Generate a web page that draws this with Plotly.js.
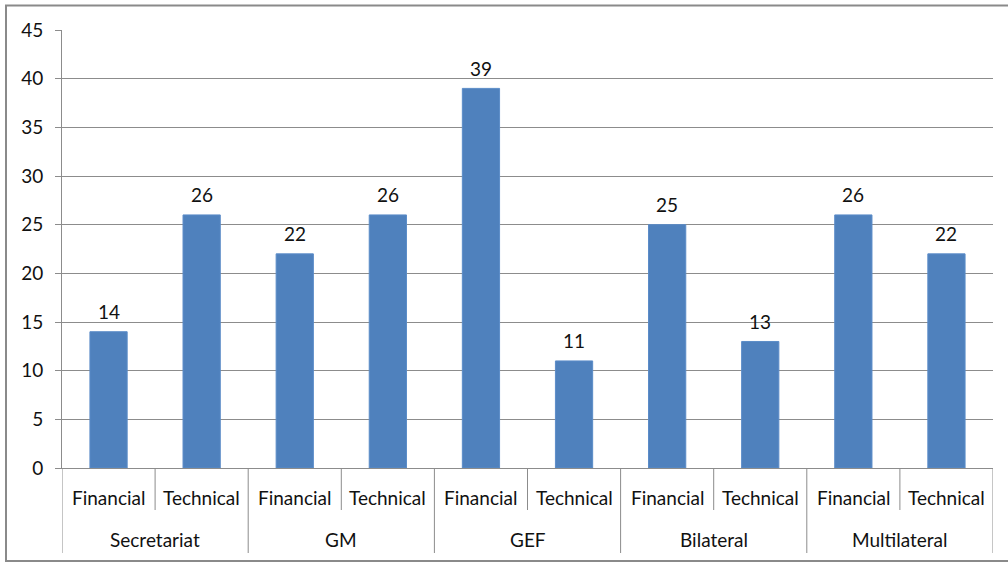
<!DOCTYPE html>
<html>
<head>
<meta charset="utf-8">
<script src="https://cdn.plot.ly/plotly-3.0.1.min.js"></script>
<style>
html,body{margin:0;padding:0;background:#fff;}
#chart{width:1008px;height:563px;}
</style>
</head>
<body>
<div id="chart"></div>
<script>
var groups = ["Secretariat", "GM", "GEF", "Bilateral", "Multilateral"];
var subTypes = ["Financial", "Technical"];
var values = [14, 26, 22, 26, 39, 11, 25, 13, 26, 22];

var FONT = "Lato, 'Open Sans', sans-serif";
var FS = 19;
var W = 1008, H = 563;
var mL = 62, mR = 15, mT = 30, mB = 95;
var plotW = W - mL - mR, plotH = H - mT - mB;

var xs = [], subLabels = [];
groups.forEach(function(g, gi){
  subTypes.forEach(function(s, si){
    xs.push(gi * subTypes.length + si);
    subLabels.push(s);
  });
});

var shapes = [];
var annotations = [];
var subDivY = -42 / plotH;
var grpDivY = -85 / plotH;
for (var i = 0; i <= xs.length; i++) {
  var isGroup = (i % subTypes.length === 0);
  shapes.push({type:'line', xref:'x', yref:'paper', x0:i-0.5, x1:i-0.5, y0:0, y1:isGroup?grpDivY:subDivY,
    line:{color:'#8c8c8c', width:1}});
}
xs.forEach(function(x, i){
  annotations.push({xref:'x', yref:'paper', x:x, y:-29/plotH, text:subLabels[i], showarrow:false,
    yanchor:'middle', xanchor:'center', font:{family:FONT, size:FS, color:'#111'}});
  // data label above bar
  annotations.push({xref:'x', yref:'y', x:x, y:values[i], text:String(values[i]), showarrow:false,
    yanchor:'middle', xanchor:'center', yshift:20, font:{family:FONT, size:FS, color:'#111'}});
});
groups.forEach(function(g, gi){
  annotations.push({xref:'x', yref:'paper', x:gi*subTypes.length + (subTypes.length-1)/2, y:-71/plotH, text:g, showarrow:false,
    yanchor:'middle', xanchor:'center', font:{family:FONT, size:FS, color:'#111'}});
});
// outer border
shapes.push({type:'rect', xref:'paper', yref:'paper',
  x0:(6-mL)/plotW, x1:(1012-mL)/plotW, y0:-(561-mT-plotH)/plotH, y1:1+(mT-5.5)/plotH,
  line:{color:'#8a8a8a', width:2}, fillcolor:'rgba(0,0,0,0)'});

var trace = {
  type:'bar', x: xs, y: values, width: 0.4,
  marker:{color:'#4F81BD', line:{color:'#5b8cc8', width:1}},
  hoverinfo:'none'
};

var layout = {
  width: W, height: H,
  margin:{l:mL, r:mR, t:mT, b:mB, pad:0},
  paper_bgcolor:'#fff', plot_bgcolor:'#fff',
  showlegend:false,
  font:{family:FONT, size:FS, color:'#111'},
  xaxis:{range:[-0.5, xs.length-0.5], showticklabels:false, showgrid:false, zeroline:false,
    showline:true, linecolor:'#8c8c8c', linewidth:1, ticks:'', fixedrange:true},
  yaxis:{range:[0,45], dtick:5, tick0:0, showgrid:true, gridcolor:'#8c8c8c', gridwidth:1,
    zeroline:false, showline:true, linecolor:'#8c8c8c', linewidth:1,
    ticks:'outside', ticklen:6, tickcolor:'#8c8c8c', tickwidth:1, ticklabelstandoff:8,
    tickfont:{family:FONT, size:FS, color:'#111'}, fixedrange:true},
  shapes: shapes,
  annotations: annotations,
  bargap:0
};

Plotly.newPlot('chart', [trace], layout, {displayModeBar:false, staticPlot:true});
</script>
</body>
</html>
